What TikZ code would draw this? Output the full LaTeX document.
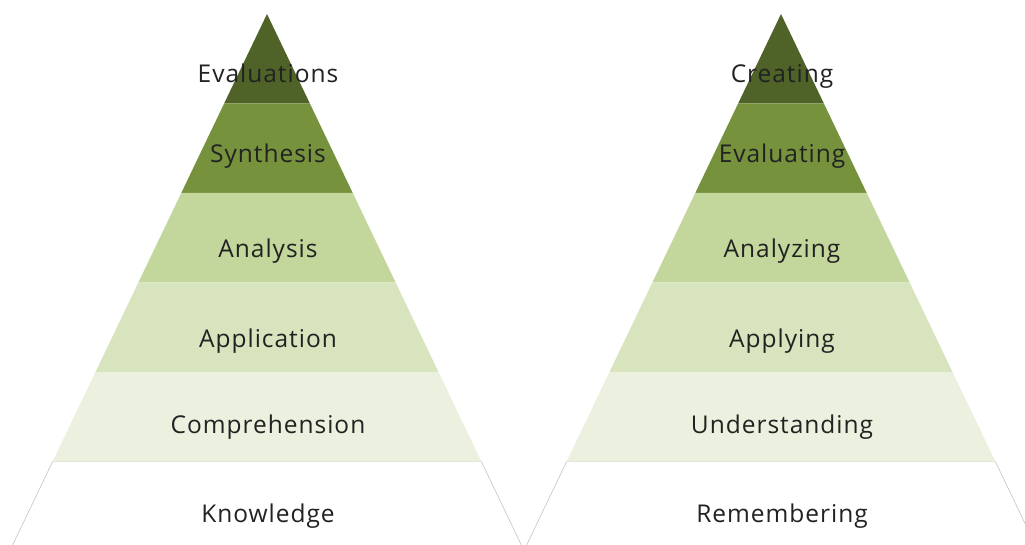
\documentclass[tikz,border=0pt]{standalone}
\usepackage{fontspec}
\setmainfont[LetterSpace=4]{Open Sans}
\definecolor{lvA}{HTML}{4F6228}
\definecolor{lvB}{HTML}{76923C}
\definecolor{lvC}{HTML}{C3D69B}
\definecolor{lvD}{HTML}{D7E4BD}
\definecolor{lvE}{HTML}{EBF1DE}
\definecolor{txt}{HTML}{222222}
\definecolor{edge}{HTML}{C4C4C4}
\definecolor{edgetop}{HTML}{E2E6D6}
\tikzset{
  lbl/.style={anchor=base, text=txt, font=\fontsize{24.5}{28}\selectfont, inner sep=0pt},
}
\begin{document}
\begin{tikzpicture}[x=1pt,y=1pt]
\useasboundingbox (0,0) rectangle (1025,545);
\clip (0,0) rectangle (1025,545);
\fill[white] (0,0) rectangle (1025,545);
\def\h{89.5}
\def\w{42.87}
\foreach \cx in {267,781}{
  \foreach \k/\col in {0/lvA,1/lvB,2/lvC,3/lvD,4/lvE}{
    \fill[\col] ({\cx-\w*\k},{531-\h*\k}) -- ({\cx+\w*\k},{531-\h*\k})
      -- ({\cx+\w*(\k+1)},{531-\h*(\k+1)}) -- ({\cx-\w*(\k+1)},{531-\h*(\k+1)}) -- cycle;
  }
  \draw[edgetop, line width=0.6pt] ({\cx-\w*5},{531-\h*5}) -- ({\cx+\w*5},{531-\h*5});
  \draw[edge, line width=0.6pt] ({\cx+\w*5},{531-\h*5}) -- ({\cx+\w*6},{531-\h*6})
      ({\cx-\w*5},{531-\h*5}) -- ({\cx-\w*6},{531-\h*6});
}
% left pyramid labels
\node[lbl] (l1) at (268,462) {Evaluations};
\node[lbl] (l2) at (268,382) {Synthesis};
\node[lbl] (l3) at (268,287) {Analysis};
\node[lbl] (l4) at (268,197) {Application};
\node[lbl] (l5) at (268,111) {Comprehension};
\node[lbl] (l6) at (268,22) {Knowledge};
% right pyramid labels
\node[lbl] (r1) at (782,462) {Creating};
\node[lbl] (r2) at (782,382) {Evaluating};
\node[lbl] (r3) at (782,287) {Analyzing};
\node[lbl] (r4) at (782,197) {Applying};
\node[lbl] (r5) at (782,111) {Understanding};
\node[lbl] (r6) at (782,22) {Remembering};
\end{tikzpicture}
\end{document}
